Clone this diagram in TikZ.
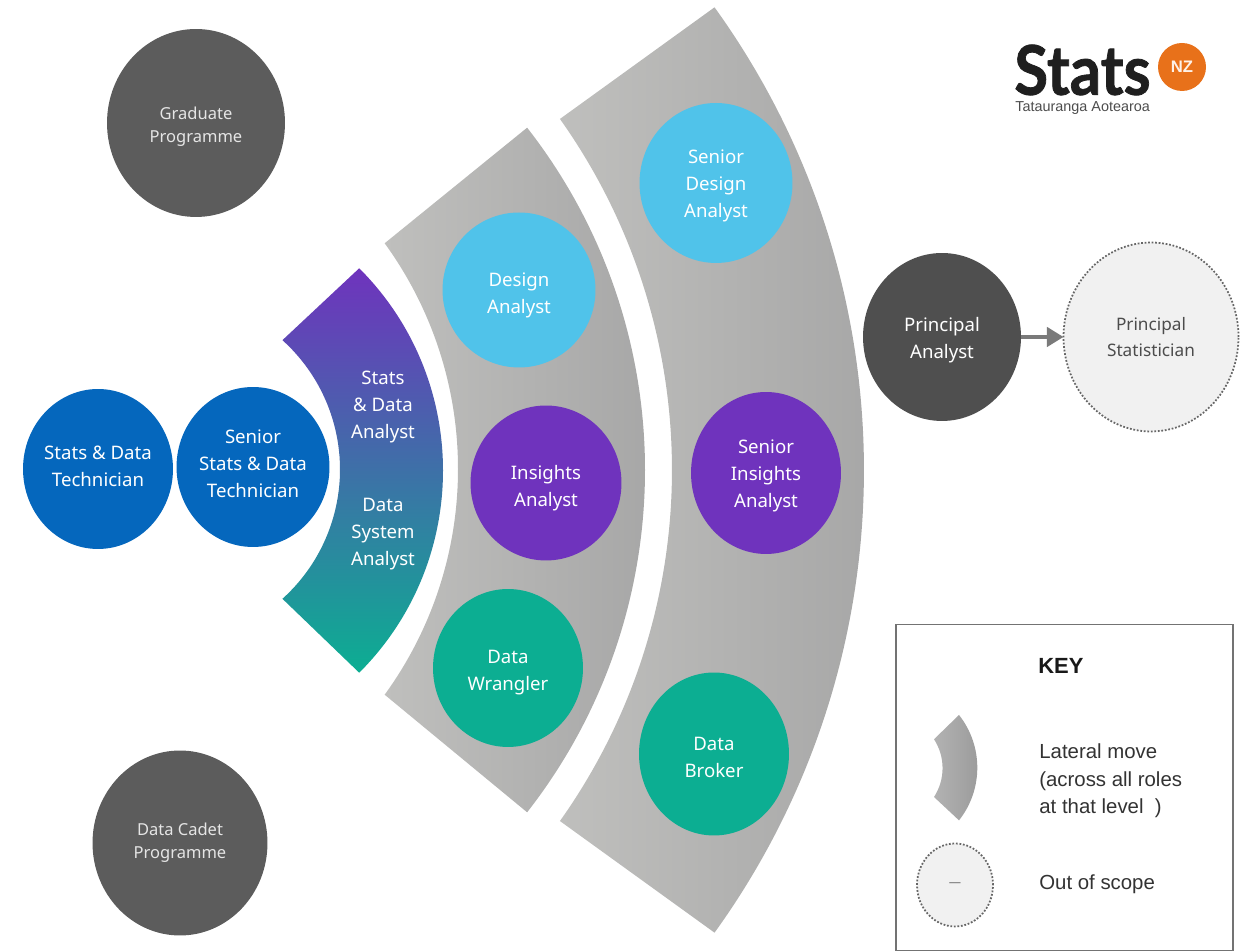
\documentclass[tikz,border=0pt]{standalone}
\usepackage{fontspec}
\setmainfont{Noto Sans}
\newfontfamily\keyfont{Liberation Sans}
\newfontfamily\logofont{Lato}[BoldFeatures={FakeBold=1.2}]
\usetikzlibrary{arrows.meta,calc,shapes.geometric}
\definecolor{techblue}{HTML}{0567BD}
\definecolor{designblue}{HTML}{50C3EA}
\definecolor{insightpurple}{HTML}{6F33BD}
\definecolor{dataTeal}{HTML}{0CAE92}
\definecolor{cadetgrey}{HTML}{5C5C5C}
\definecolor{principalgrey}{HTML}{4F4F4F}
\definecolor{scopefill}{HTML}{F1F1F1}
\definecolor{bandlight}{HTML}{BFBFBD}
\definecolor{banddark}{HTML}{A4A4A4}
\definecolor{logoorange}{HTML}{E8711A}
\def\centerband[#1](#2)(#3:#4)(#5)(#6:#7){\shade[#1] ($(#2)+({#4*cos(#3)},{#4*sin(#3)})$) arc (#3:-#3:#4) -- ($(#5)+({#7*cos(#6)},{-#7*sin(#6)})$) arc (-#6:#6:#7) -- cycle;}
\tikzset{
	role/.style={ellipse,inner sep=0pt,outer sep=0pt},
	rolelabel/.style={align=center,text=white,font=\fontsize{10.6}{15.4}\selectfont},
	smalllabel/.style={align=center,text=white!90!black,font=\fontsize{9.4}{13}\selectfont},
	scoperole/.style={ellipse,inner sep=0pt,outer sep=0pt,align=center,fill=scopefill,draw=black!60,densely dotted,line width=1pt},
	keytext/.style={anchor=west,align=left,inner sep=0pt,text=black!80,font=\keyfont\fontsize{11.6}{15.6}\selectfont},
	greyband/.style={left color=bandlight,right color=banddark},
}
\begin{document}
\begin{tikzpicture}[x=0.02cm,y=0.02cm]
	\useasboundingbox (0,0) rectangle (1247,952);
	%%%%% BANDS %%%%%
	\centerband[greyband](73,482)(35.8:791)(66,482)(35.4:606)
	\centerband[greyband](89,482)(38:556)(74,483)(36:384)
	\centerband[top color=insightpurple,bottom color=dataTeal](157,481.5)(45:286)(166,482.5)(48:174)

	%%%%% ROLES %%%%%
	\node[role,fill=cadetgrey,minimum width=3.56cm,minimum height=3.76cm,label={[smalllabel,yshift=-2.2pt]center:Graduate\\Programme}] (graduate) at (196,829) {};
	\node[role,fill=cadetgrey,minimum width=3.5cm,minimum height=3.7cm,label={[smalllabel]center:Data Cadet\\Programme}] (cadet) at (180,109) {};

	\node[role,fill=techblue,minimum width=3cm,minimum height=3.2cm,label={[rolelabel,yshift=1.7pt]center:Stats \& Data\\Technician}] (technician) at (98,483) {};
	\node[role,fill=techblue,minimum width=3.06cm,minimum height=3.2cm,label={[rolelabel,yshift=1.7pt]center:Senior\\Stats \& Data\\Technician}] (seniortech) at (253,485) {};

	\node[rolelabel] (statsanalyst) at (383,545) {Stats\\\& Data\\Analyst};
	\node[rolelabel] (systemanalyst) at (383,418) {Data\\System\\Analyst};

	\node[role,fill=designblue,minimum width=3.06cm,minimum height=3.1cm,label={[rolelabel,yshift=-2.8pt]center:Design\\Analyst}] (design) at (519,662) {};
	\node[role,fill=insightpurple,minimum width=3.02cm,minimum height=3.1cm,label={[rolelabel,yshift=-2.8pt]center:Insights\\Analyst}] (insights) at (546,469) {};
	\node[role,fill=dataTeal,minimum width=3cm,minimum height=3.16cm,label={[rolelabel,yshift=-2.8pt]center:Data\\Wrangler}] (wrangler) at (508,284) {};

	\node[role,fill=designblue,minimum width=3.06cm,minimum height=3.2cm,label={[rolelabel,yshift=-1.7pt]center:Senior\\Design\\Analyst}] (seniordesign) at (716,769) {};
	\node[role,fill=insightpurple,minimum width=3cm,minimum height=3.24cm,label={[rolelabel,yshift=-1.7pt]center:Senior\\Insights\\Analyst}] (seniorinsights) at (766,479) {};
	\node[role,fill=dataTeal,minimum width=3cm,minimum height=3.26cm,label={[rolelabel,yshift=-1.7pt]center:Data\\Broker}] (broker) at (714,198) {};

	\node[role,fill=principalgrey,minimum width=3.16cm,minimum height=3.36cm,label={[rolelabel,yshift=-1.7pt]center:Principal\\Analyst}] (principal) at (942,615) {};
	\node[scoperole,minimum width=3.5cm,minimum height=3.78cm] (statistician) at (1151,615) {};
	\node[align=center,text=black!70,font=\fontsize{9.8}{14.4}\selectfont] (statisticianlabel) at (statistician) {Principal\\Statistician};
	\draw[line width=2.2pt,draw=black!52,-{Triangle[length=9.5pt,width=11pt]}] (principal) -- (statistician);

	%%%%% LOGO %%%%%
	\node[anchor=west,inner sep=0pt,xscale=0.9,text=black!88,font=\logofont\bfseries\fontsize{39}{39}\selectfont] (logostats) at (1014,882) {Stats};
	\node[circle,fill=logoorange,minimum size=0.96cm,inner sep=0pt,text=white!90!logoorange,font=\keyfont\bfseries\fontsize{9.5}{9.5}\selectfont] (logonz) at (1182,885) {NZ};
	\node[anchor=west,inner sep=0pt,text=black!70,font=\keyfont\fontsize{8.2}{8.2}\selectfont] (logosub) at (1015,844) {Tatauranga Aotearoa};

	%%%%% KEY %%%%%
	\node[draw=black!55,line width=1pt,fill=white,minimum width=6.74cm,minimum height=6.52cm,inner sep=0pt] (keybox) at (1064.5,164.5) {};
	\node[anchor=west,inner sep=0pt,text=black!90,font=\keyfont\bfseries\fontsize{12.5}{15}\selectfont] (keytitle) at (1038,286) {KEY};
	\shade[left color=black!30,right color=black!40] (959,237) arc (38.3:-38.3:85) -- (934,155) arc (-33:33:53) -- cycle;
	\node[keytext] (keylateral) at (1039,171) {Lateral move\\(across all roles\\at that level\ \ )};
	\node[scoperole,minimum width=1.52cm,minimum height=1.66cm,text=black!55,font=\fontsize{7}{7}\selectfont] (keyscope) at (955,67) {---};
	\node[keytext] (keyout) at (1039,68) {Out of scope};
\end{tikzpicture}
\end{document}
